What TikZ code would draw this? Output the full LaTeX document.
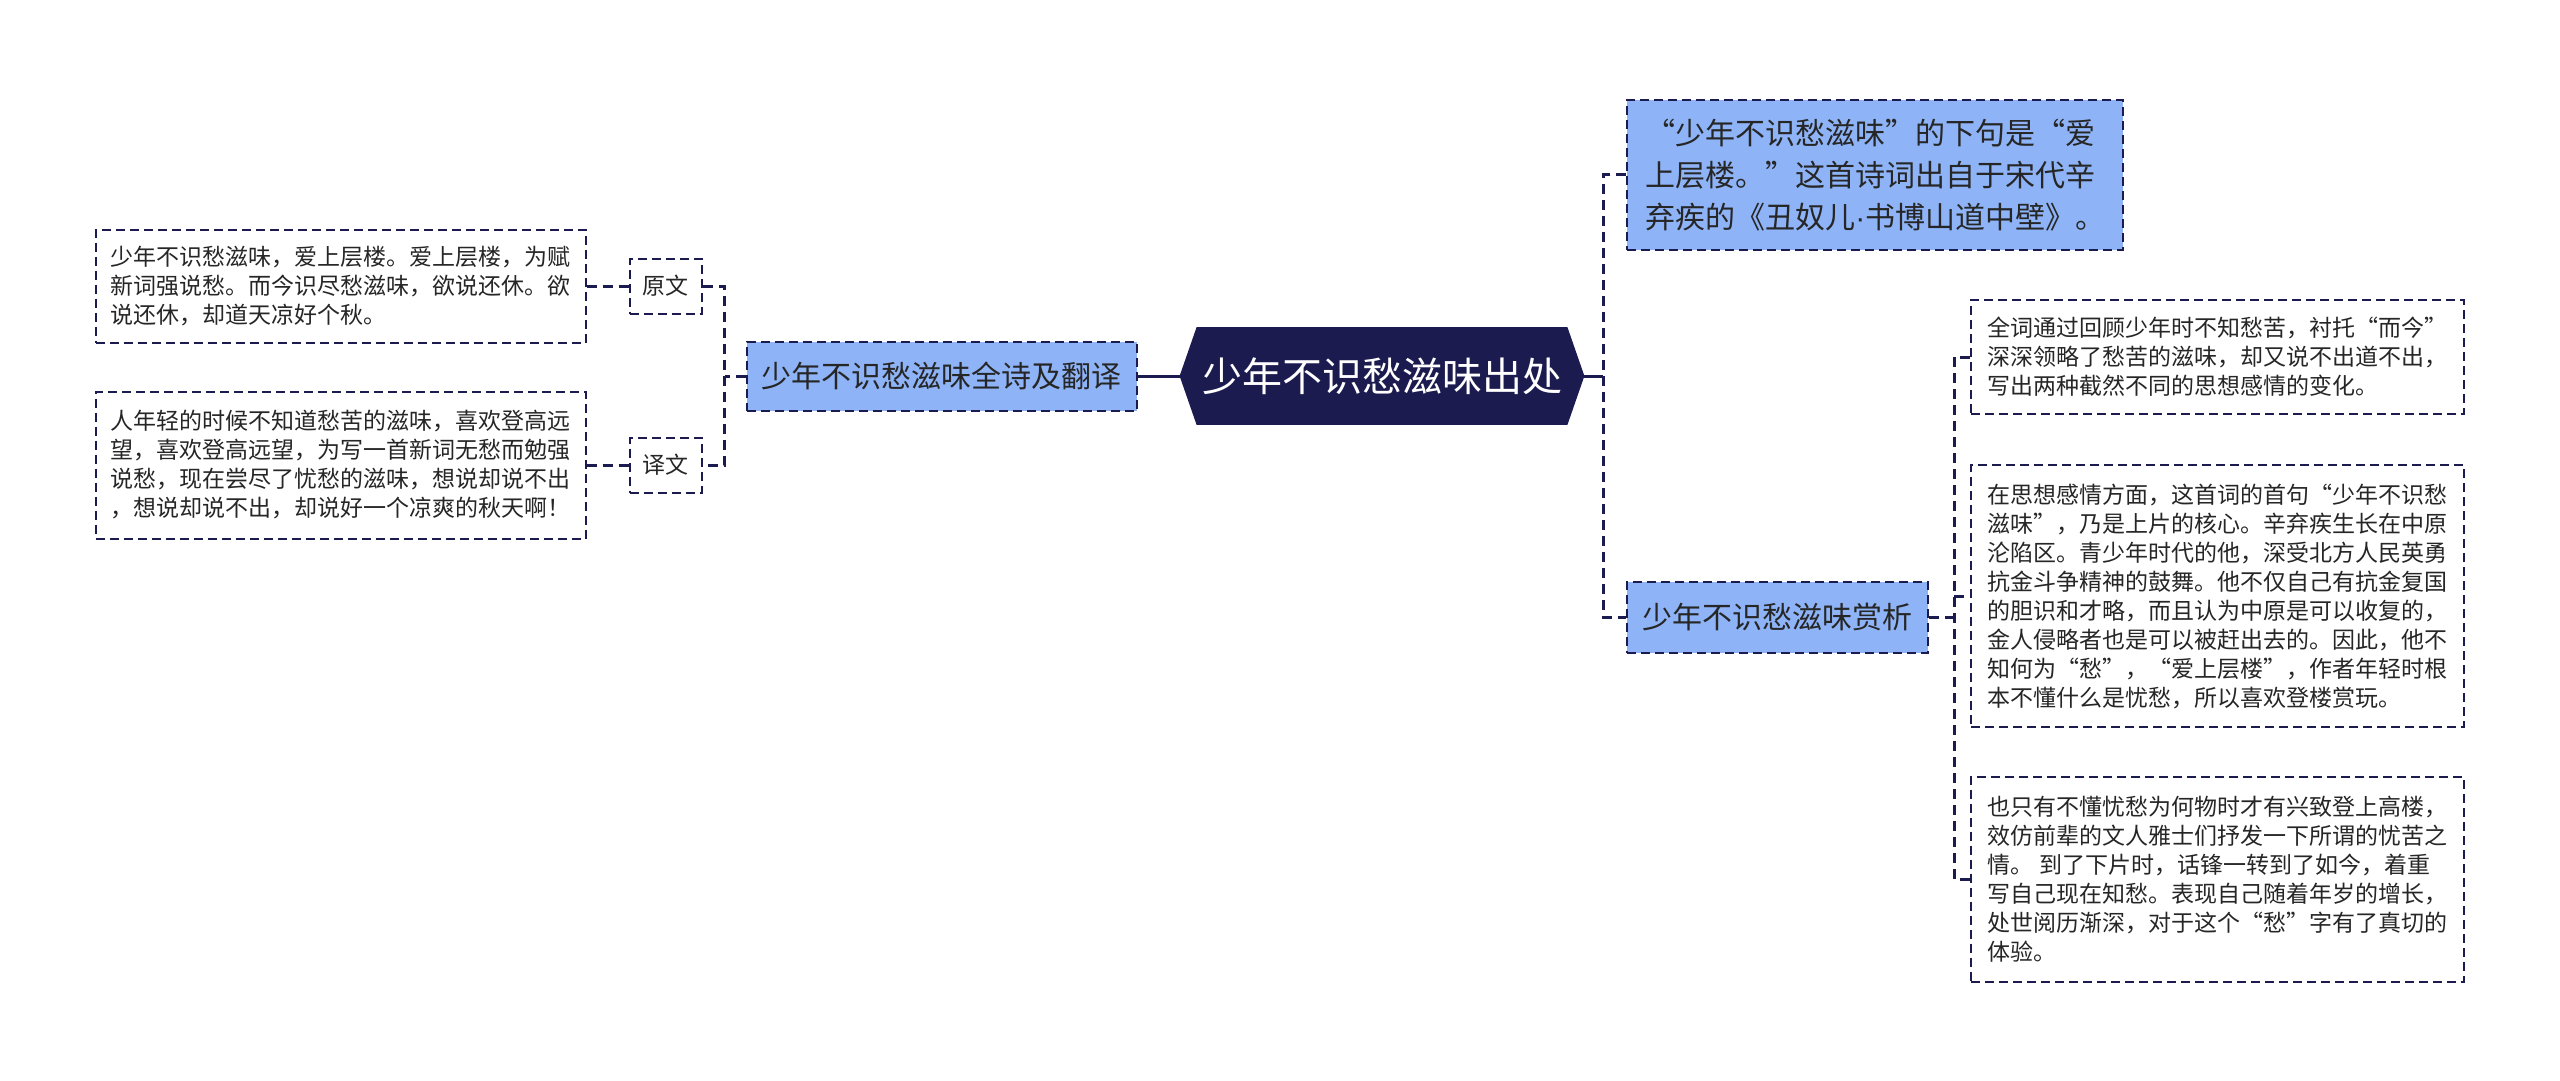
\documentclass[tikz,border=0pt]{standalone}
\usepackage{fontspec}
\setmainfont{Noto Sans CJK SC}
\newfontfamily\latinfont{Liberation Sans}
\usetikzlibrary{positioning,backgrounds}
\definecolor{navy}{HTML}{1C1B4F}
\definecolor{sky}{HTML}{8EB4F7}
\definecolor{ink}{HTML}{262626}
\tikzset{hub/.style={minimum width=202pt,minimum height=48.5pt,inner sep=0pt,text=white,font=\fontsize{20}{24}\selectfont},topic/.style={draw=navy,fill=sky,line width=1pt,dash pattern=on 4.5pt off 2.5pt,text=ink,align=left,inner sep=0pt,font=\fontsize{15}{21}\selectfont},tag/.style={draw=navy,fill=white,line width=1pt,dash pattern=on 4.5pt off 2.5pt,text=ink,inner sep=0pt,minimum width=36pt,minimum height=27.5pt,font=\fontsize{11.5}{14.5}\selectfont},note/.style={tag,align=left},trunk/.style={draw=navy,line width=1.5pt},link/.style={draw=navy,line width=1.5pt,dash pattern=on 5pt off 3pt}}

\begin{document}
\begin{tikzpicture}
\useasboundingbox (0,0) rectangle (1280pt,-540.5pt);
\node[hub] (root) at (691pt,-188pt) {少年不识愁滋味出处};
\begin{scope}[on background layer]
\fill[navy] (root.west) -- ([xshift=8.5pt]root.north west) -- ([xshift=-8.5pt]root.north east) -- (root.east) -- ([xshift=-8.5pt]root.south east) -- ([xshift=8.5pt]root.south west) -- cycle;
\end{scope}
\node[topic,minimum width=195pt,minimum height=34.5pt,left=21pt of root] (poem) {少年不识愁滋味全诗及翻译};
\node[tag,left=21.5pt of poem,yshift=45pt] (orig) {原文};
\node[tag,left=21.5pt of poem,yshift=-44.5pt] (trans) {译文};
\node[note,minimum width=245pt,minimum height=56.5pt,left=21pt of orig] (origtext) {少年不识愁滋味，爱上层楼。爱上层楼，为赋\\新词强说愁。而今识尽愁滋味，欲说还休。欲\\说还休，却道天凉好个秋。};
\node[note,minimum width=245pt,minimum height=73.5pt,left=21pt of trans] (transtext) {人年轻的时候不知道愁苦的滋味，喜欢登高远\\望，喜欢登高远望，为写一首新词无愁而勉强\\说愁，现在尝尽了忧愁的滋味，想说却说不出\\，想说却说不出，却说好一个凉爽的秋天啊！};
\node[topic,minimum width=248pt,minimum height=75pt,right=21pt of root,yshift=100.5pt] (source) {“少年不识愁滋味”的下句是“爱\\上层楼。”这首诗词出自于宋代辛\\弃疾的《丑奴儿{\latinfont ·}书博山道中壁》。};
\node[topic,minimum width=150.5pt,minimum height=35.5pt,right=21pt of root,yshift=-120.5pt] (review) {少年不识愁滋味赏析};
\node[note,minimum width=246.5pt,minimum height=57pt,right=20.5pt of review,yshift=130pt] (sense) {全词通过回顾少年时不知愁苦，衬托“而今”\\深深领略了愁苦的滋味，却又说不出道不出，\\写出两种截然不同的思想感情的变化。};
\node[note,minimum width=246.5pt,minimum height=131pt,right=20.5pt of review,yshift=10.5pt] (feeling) {在思想感情方面，这首词的首句“少年不识愁\\滋味”，乃是上片的核心。辛弃疾生长在中原\\沦陷区。青少年时代的他，深受北方人民英勇\\抗金斗争精神的鼓舞。他不仅自己有抗金复国\\的胆识和才略，而且认为中原是可以收复的，\\金人侵略者也是可以被赶出去的。因此，他不\\知何为“愁”，“爱上层楼”，作者年轻时根\\本不懂什么是忧愁，所以喜欢登楼赏玩。};
\node[note,minimum width=246.5pt,minimum height=102.5pt,right=20.5pt of review,yshift=-131pt] (later) {也只有不懂忧愁为何物时才有兴致登上高楼，\\效仿前辈的文人雅士们抒发一下所谓的忧苦之\\情。 到了下片时，话锋一转到了如今，着重\\写自己现在知愁。表现自己随着年岁的增长，\\处世阅历渐深，对于这个“愁”字有了真切的\\体验。};
\coordinate[left=10.5pt of poem] (pj);
\coordinate[right=9.5pt of root] (sj);
\coordinate[right=12.5pt of review] (rj);
\draw[trunk] (root) -- (poem);\draw[trunk] (root) -- (sj);
\draw[link] (poem) -- (pj);\draw[link] (orig.east) -| (pj) |- (trans.east);
\draw[link] (origtext) -- (orig);\draw[link] (transtext) -- (trans);
\draw[link] (source.west) -| (sj) |- (review.west);
\draw[link] (review) -- (rj);\draw[link] (sense.west) -| (rj) |- (later.west);\draw[link] (rj |- feeling.west) -- (feeling.west);
\end{tikzpicture}
\end{document}
